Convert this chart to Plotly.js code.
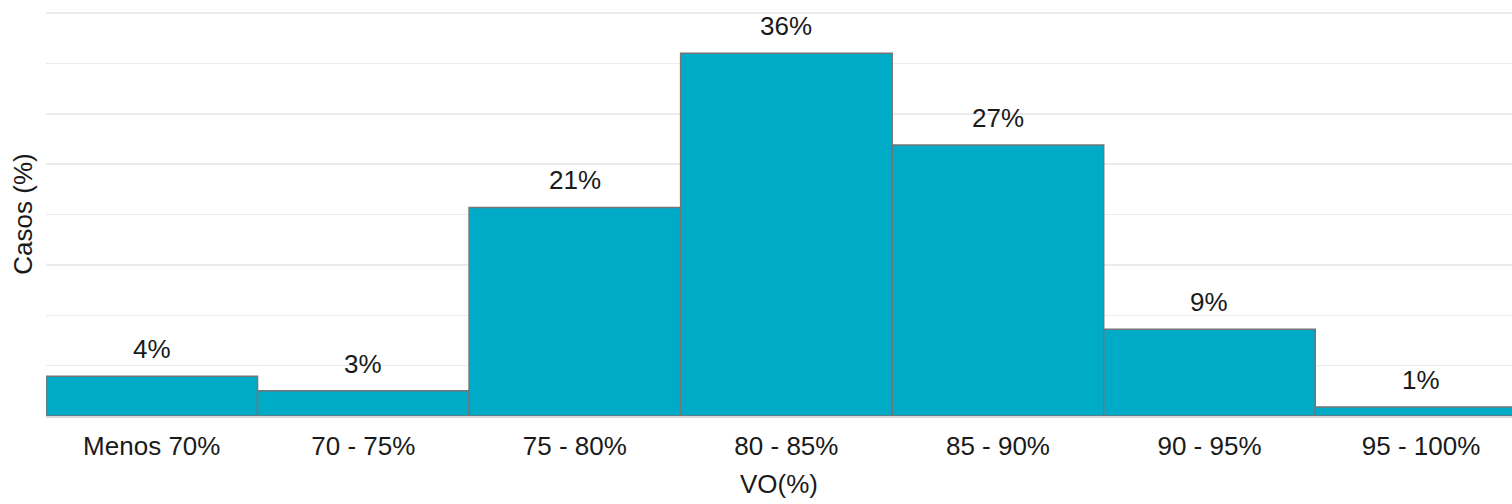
<!DOCTYPE html>
<html><head><meta charset="utf-8">
<script src="https://cdn.plot.ly/plotly-3.0.1.min.js"></script>
<style>html,body{margin:0;padding:0;background:#fff;}#chart{width:1512px;height:504px;}</style>
</head><body><div id="chart"></div>
<script>
const categories = ["Menos 70%", "70 - 75%", "75 - 80%", "80 - 85%", "85 - 90%", "90 - 95%", "95 - 100%"];
const values = [3.95, 2.5, 20.7, 36.0, 26.9, 8.6, 0.9];
const labels = ["4%", "3%", "21%", "36%", "27%", "9%", "1%"];

const FONT = 'Liberation Sans, Arial, sans-serif';
const trace = {
  type: 'bar', x: categories, y: values,
  marker: {color: '#00abc8', line: {color: '#757575', width: 1.5}},
  hoverinfo: 'none'
};
const annotations = categories.map((c, i) => ({
  x: c, y: values[i], text: labels[i], showarrow: false,
  yanchor: 'bottom', yshift: 10, font: {family: FONT, size: 26, color: '#1a1a1a'}
}));
const layout = {
  width: 1512, height: 504,
  margin: {l: 46, r: 0, t: 12, b: 88},
  paper_bgcolor: '#fff', plot_bgcolor: '#fff',
  bargap: 0, showlegend: false,
  font: {family: FONT, size: 26, color: '#1a1a1a'},
  xaxis: {type: 'category', range: [-0.5, 6.43], showgrid: false, zeroline: false,
    showline: true, linecolor: '#d9d9d9', linewidth: 1.5, ticks: 'outside', ticklen: 6, tickcolor: 'rgba(0,0,0,0)',
    tickfont: {size: 26, color: '#1a1a1a'},
    title: {text: 'VO(%)', font: {size: 26, color: '#1a1a1a'}, standoff: 15}},
  yaxis: {range: [0, 40.1], tickvals: [5,10,15,20,25,30,35,40], showticklabels: false, ticks: '',
    showgrid: true, gridcolor: '#ebebeb', gridwidth: 1.5, zeroline: false,
    title: {text: 'Casos (%)', font: {size: 26, color: '#1a1a1a'}, standoff: 4}},
  annotations: annotations
};
Plotly.newPlot('chart', [trace], layout, {displayModeBar: false, staticPlot: true});
</script></body></html>
